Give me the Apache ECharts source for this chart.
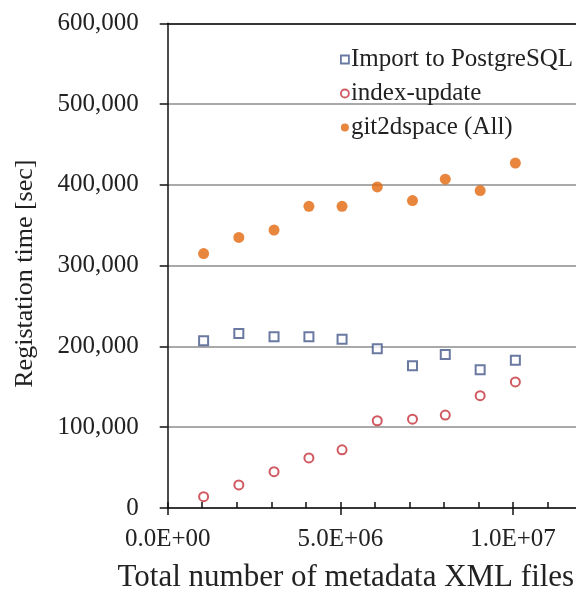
<!DOCTYPE html>
<html>
<head>
<meta charset="utf-8">
<script src="https://cdn.jsdelivr.net/npm/echarts@6/dist/echarts.min.js"></script>
<style>
html,body{margin:0;padding:0;background:#fff;}
#chart{width:576px;height:589px;}
</style>
</head>
<body>
<div id="chart"></div>
<script>
// Data
const seriesNames = ['Import to PostgreSQL', 'index-update', 'git2dspace (All)'];
const fileCounts = [1.04e6, 2.06e6, 3.08e6, 4.09e6, 5.05e6, 6.07e6, 7.09e6, 8.04e6, 9.05e6, 1.007e7];
const importPg   = [207000, 216000, 212000, 212000, 209000, 197000, 176000, 190000, 171000, 183000];
const indexUpd   = [14000, 28500, 45000, 62000, 72000, 108000, 110000, 115000, 139000, 156000];
const git2dspace = [315000, 335000, 344000, 373500, 373500, 397500, 380500, 407000, 393000, 427000];
const xTickLabels = ['0.0E+00', '5.0E+06', '1.0E+07'];
const yTickLabels = ['0', '100,000', '200,000', '300,000', '400,000', '500,000', '600,000'];

const FONT = 'Liberation Serif';
const pairs = ys => fileCounts.map((x, i) => [x, ys[i]]);

const chart = echarts.init(document.getElementById('chart'), null, {renderer: 'canvas'});
chart.setOption({
  animation: false,
  backgroundColor: '#fff',
  grid: {left: 167.7, top: 23.3, right: -6, bottom: 81, containLabel: false, outerBoundsMode: 'none'},
  legend: {
    orient: 'vertical',
    left: 335, top: 42,
    itemWidth: 8, itemHeight: 8, itemGap: 9,
    textStyle: {fontFamily: FONT, fontSize: 25, color: '#222', padding: [0, 0, 0, -3]},
    itemStyle: {borderWidth: 1.8},
    data: seriesNames
  },
  xAxis: [
    {
      type: 'value', position: 'bottom', min: 0, max: 1.2e7, interval: 5e6,
      axisLine: {show: true, onZero: false, lineStyle: {color: '#111', width: 1.5}},
      axisTick: {show: true, inside: false, length: 7, lineStyle: {color: '#111', width: 1.5}},
      axisLabel: {
        margin: 19, fontFamily: FONT, fontSize: 25, color: '#222',
        formatter: v => xTickLabels[Math.round(v / 5e6)] || ''
      },
      splitLine: {show: false},
      name: 'Total number of metadata XML files',
      nameLocation: 'middle', nameGap: 54,
      nameTextStyle: {fontFamily: FONT, fontSize: 31, color: '#222', padding: [0, 58, 0, 0]}
    },
    {
      type: 'value', position: 'bottom', min: 0, max: 1.2e7, interval: 1e6,
      axisLine: {show: false},
      axisTick: {show: true, inside: true, length: 6, lineStyle: {color: '#111', width: 1.5}},
      axisLabel: {show: false},
      splitLine: {show: false}
    },
    {
      type: 'value', position: 'top', min: 0, max: 1.2e7,
      axisLine: {show: true, onZero: false, lineStyle: {color: '#111', width: 1.5}},
      axisTick: {show: false}, axisLabel: {show: false}, splitLine: {show: false}
    }
  ],
  yAxis: {
    type: 'value', min: 0, max: 600000, interval: 100000,
    axisLine: {show: true, lineStyle: {color: '#111', width: 1.5}},
    axisTick: {show: true, inside: false, length: 8, lineStyle: {color: '#111', width: 1.5}},
    axisLabel: {
      margin: 29, fontFamily: FONT, fontSize: 25, color: '#222',
      formatter: v => yTickLabels[Math.round(v / 100000)]
    },
    splitLine: {show: true, lineStyle: {color: '#8c8c8c', width: 1.5}},
    name: 'Registation time [sec]',
    nameLocation: 'middle', nameGap: 130,
    nameTextStyle: {fontFamily: FONT, fontSize: 26, color: '#222', padding: [0, 16, 0, 0]}
  },
  series: [
    {
      name: seriesNames[0], type: 'scatter', data: pairs(importPg),
      symbol: 'rect', symbolSize: 9,
      itemStyle: {color: '#fff', borderColor: '#44578a', borderWidth: 2}
    },
    {
      name: seriesNames[1], type: 'scatter', data: pairs(indexUpd),
      symbol: 'circle', symbolSize: 9,
      itemStyle: {color: '#fff', borderColor: '#c5303a', borderWidth: 2}
    },
    {
      name: seriesNames[2], type: 'scatter', data: pairs(git2dspace),
      symbol: 'circle', symbolSize: 11,
      itemStyle: {color: '#e2680e'}
    }
  ]
});
</script>
</body>
</html>
